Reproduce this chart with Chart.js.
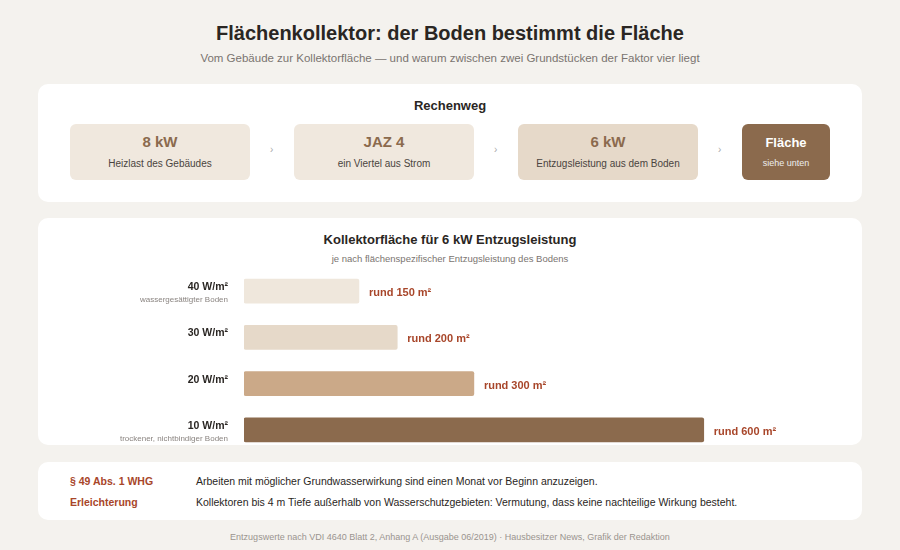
<!DOCTYPE html>
<html><head><meta charset="utf-8">
<script src="https://cdn.jsdelivr.net/npm/chart.js@4"></script>
<style>
body{margin:0;width:900px;height:550px;background:#f4f2ee;font-family:"Liberation Sans",Arial,sans-serif;position:relative;overflow:hidden;color:#2a2623}
.abs{position:absolute}
.card{position:absolute;left:38px;width:824px;background:#fff;border-radius:10px;overflow:hidden}
.step{position:absolute;top:40px;height:56px;border-radius:6px;text-align:center}
.step b{display:block;font-size:15px;margin-top:9px;color:#8b6a4d}
.step span{display:block;font-size:10px;margin-top:8px;color:#4a4440}
.arr{position:absolute;top:60px;font-size:10px;color:#aaa}
.note{position:absolute;font-size:10.5px}
</style></head><body>
<div class="abs" style="top:22px;width:900px;text-align:center;font-size:20px;font-weight:700">Flächenkollektor: der Boden bestimmt die Fläche</div>
<div class="abs" style="top:52px;width:900px;text-align:center;font-size:11.5px;color:#7a7470">Vom Gebäude zur Kollektorfläche — und warum zwischen zwei Grundstücken der Faktor vier liegt</div>

<div class="card" style="top:84px;height:118px">
  <div class="abs" style="top:14px;width:824px;text-align:center;font-size:13px;font-weight:700">Rechenweg</div>
  <div class="step" style="left:32px;width:180px;background:#f0e8de"><b>8 kW</b><span>Heizlast des Gebäudes</span></div>
  <div class="arr" style="left:232px">›</div>
  <div class="step" style="left:256px;width:180px;background:#f0e8de"><b>JAZ 4</b><span>ein Viertel aus Strom</span></div>
  <div class="arr" style="left:456px">›</div>
  <div class="step" style="left:480px;width:180px;background:#e6d9c9"><b>6 kW</b><span>Entzugsleistung aus dem Boden</span></div>
  <div class="arr" style="left:680px">›</div>
  <div class="step" style="left:704px;width:88px;background:#8b6a4d"><b style="color:#fff;font-size:13px;margin-top:11px">Fläche</b><span style="color:#eee;font-size:9px">siehe unten</span></div>
</div>

<div class="card" style="top:218px;height:227px">
  <div class="abs" style="top:14px;width:824px;text-align:center;font-size:13px;font-weight:700">Kollektorfläche für 6 kW Entzugsleistung</div>
  <div class="abs" style="top:35px;width:824px;text-align:center;font-size:9.5px;color:#7a7470">je nach flächenspezifischer Entzugsleistung des Bodens</div>
  <div class="abs" style="left:0;top:50px;width:824px;height:185px"><canvas id="c"></canvas></div>
</div>

<div class="card" style="top:462px;height:58px">
  <div class="note" style="left:32px;top:13px;color:#a8462a;font-weight:700">§ 49 Abs. 1 WHG</div>
  <div class="note" style="left:158px;top:13px">Arbeiten mit möglicher Grundwasserwirkung sind einen Monat vor Beginn anzuzeigen.</div>
  <div class="note" style="left:32px;top:34px;color:#a8462a;font-weight:700">Erleichterung</div>
  <div class="note" style="left:158px;top:34px">Kollektoren bis 4 m Tiefe außerhalb von Wasserschutzgebieten: Vermutung, dass keine nachteilige Wirkung besteht.</div>
</div>
<div class="abs" style="top:532px;width:900px;text-align:center;font-size:9px;color:#9a948f">Entzugswerte nach VDI 4640 Blatt 2, Anhang A (Ausgabe 06/2019) · Hausbesitzer News, Grafik der Redaktion</div>

<script>
const soilLabels = ["40 W/m²", "30 W/m²", "20 W/m²", "10 W/m²"];
const soilNotes = ["wassergesättigter Boden", "", "", "trockener, nichtbindiger Boden"];
const areaValues = [150, 200, 300, 600];
const barColors = ["#efe7dc", "#e6d9c9", "#cba988", "#8b6a4d"];

const sideLabels = {
  id: "sideLabels",
  afterDatasetsDraw(chart) {
    const ctx = chart.ctx, x = chart.scales.x, y = chart.scales.y;
    ctx.save();
    areaValues.forEach((v, i) => {
      const py = y.getPixelForValue(i);
      ctx.textBaseline = "middle";
      ctx.fillStyle = "#a8462a";
      ctx.font = "bold 11px 'Liberation Sans', Arial, sans-serif";
      ctx.textAlign = "left";
      ctx.fillText("rund " + v + " m²", x.getPixelForValue(v) + 10, py + 2);
      ctx.textAlign = "right";
      ctx.fillStyle = "#2a2623";
      ctx.font = "bold 10.5px 'Liberation Sans', Arial, sans-serif";
      ctx.fillText(soilLabels[i], chart.chartArea.left - 16, py - 4);
      if (soilNotes[i]) {
        ctx.fillStyle = "#8a8480";
        ctx.font = "8px 'Liberation Sans', Arial, sans-serif";
        ctx.fillText(soilNotes[i], chart.chartArea.left - 16, py + 9);
      }
    });
    ctx.restore();
  }
};

new Chart(document.getElementById("c"), {
  type: "bar",
  data: {
    labels: soilLabels,
    datasets: [{ data: areaValues, backgroundColor: barColors, barThickness: 24, borderRadius: 2, borderSkipped: false }]
  },
  options: {
    indexAxis: "y",
    responsive: true,
    maintainAspectRatio: false,
    animation: false,
    layout: { padding: { left: 206, right: 5, top: 0, bottom: 0 } },
    plugins: { legend: { display: false }, tooltip: { enabled: false } },
    scales: {
      x: { min: 0, max: 800, display: false },
      y: { display: false }
    }
  },
  plugins: [sideLabels]
});
</script>
</body></html>
